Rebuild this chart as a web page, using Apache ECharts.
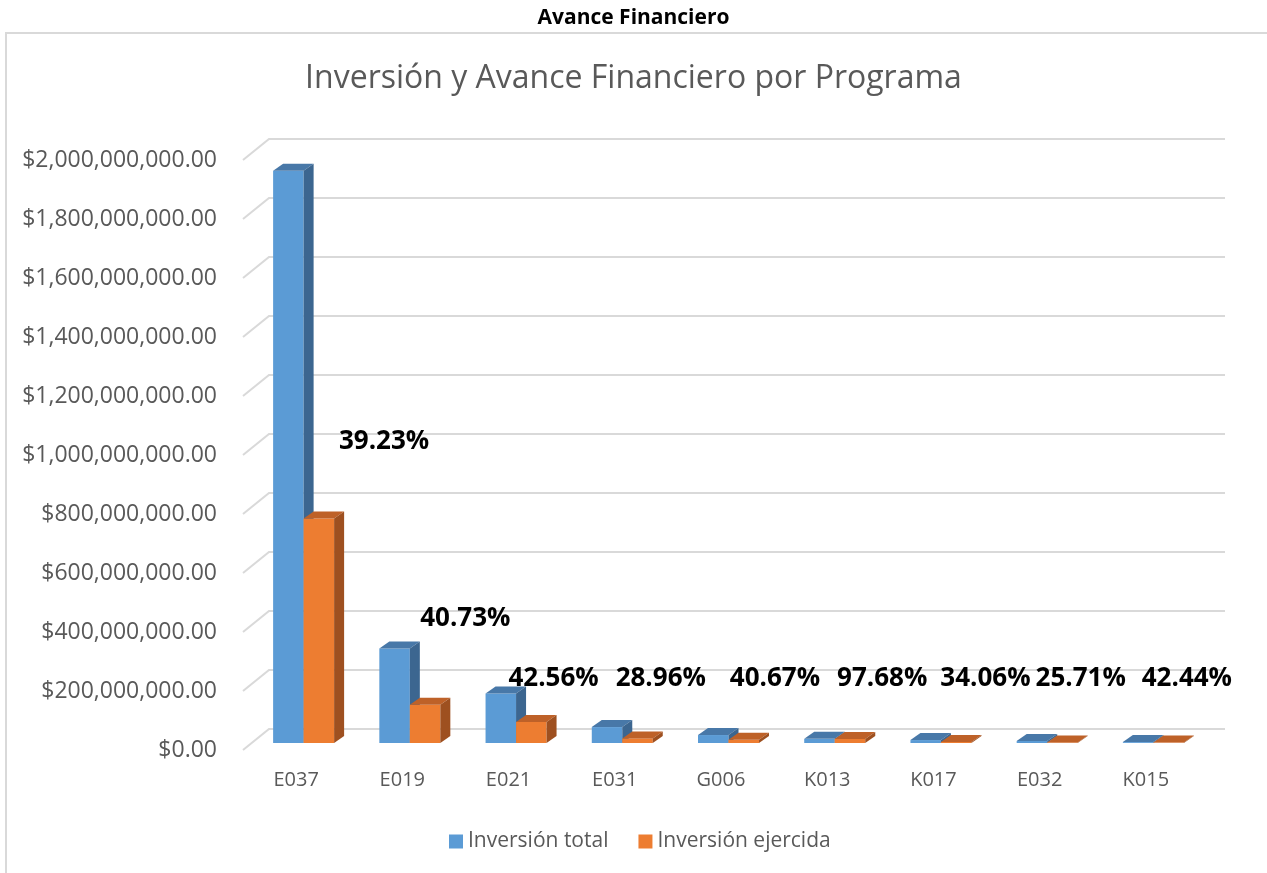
<!DOCTYPE html>
<html>
<head>
<meta charset="utf-8">
<script src="https://cdn.jsdelivr.net/npm/echarts@6/dist/echarts.min.js"></script>
<style>
  html, body { margin: 0; padding: 0; background: #fff; }
  #chart { width: 1267px; height: 873px; }
</style>
</head>
<body>
<div id="chart"></div>
<script>
// datos
var programas = ['E037', 'E019', 'E021', 'E031', 'G006', 'K013', 'K017', 'E032', 'K015'];
var inversionTotal = [1940000000, 320000000, 168000000, 54000000, 27000000, 14000000, 10000000, 7000000, 3000000];
var inversionEjercida = [761000000, 130000000, 71500000, 15600000, 11000000, 13700000, 3400000, 1800000, 1300000];
var avance = ['39.23%', '40.73%', '42.56%', '28.96%', '40.67%', '97.68%', '34.06%', '25.71%', '42.44%'];
var yTicks = [0, 200000000, 400000000, 600000000, 800000000, 1000000000, 1200000000, 1400000000, 1600000000, 1800000000, 2000000000];

// donde Excel dejo las etiquetas (nivel en el eje y corrimiento en px)
var etiquetaNivel = [1047000000, 444000000, 241000000, 241000000, 241000000, 241000000, 241000000, 241000000, 241000000];
var etiquetaCorr = [88, 63, 45, 46, 54, 55, 52, 41, 41];

var FONT = '"Open Sans", "Noto Sans", sans-serif';
var DX = 10, DY = 7;      // profundidad de la barra
var WX = 26, WY = 21;     // profundidad de la pared
var BW = 30.5;

function fmtMoney(v) {
  var s = Math.round(v).toString().replace(/\B(?=(\d{3})+(?!\d))/g, ',');
  return '$' + s + '.00';
}

function barra(offL, front, top, side) {
  return function (params, api) {
    var i = api.value(0), v = api.value(1);
    var base = api.coord([i, 0]);
    var tp = api.coord([i, v]);
    var x0 = base[0] + offL, x1 = x0 + BW;
    var yb = base[1] - 7, yt = tp[1] - 7;
    return {
      type: 'group',
      children: [
        { type: 'rect', shape: { x: x0, y: yt, width: BW, height: yb - yt }, style: { fill: front } },
        { type: 'polygon', shape: { points: [[x0, yt], [x1, yt], [x1 + DX, yt - DY], [x0 + DX, yt - DY]] }, style: { fill: top } },
        { type: 'polygon', shape: { points: [[x1, yt], [x1 + DX, yt - DY], [x1 + DX, yb - DY], [x1, yb]] }, style: { fill: side } }
      ]
    };
  };
}

var chart = echarts.init(document.getElementById('chart'));

var option = {
  animation: false,
  backgroundColor: '#fff',
  title: [
    { text: 'Avance Financiero', left: 'center', top: 3,
      textStyle: { fontFamily: FONT, fontSize: 21, fontWeight: 'bold', color: '#000' } },
    { text: 'Inversión y Avance Financiero por Programa', left: 'center', top: 58,
      textStyle: { fontFamily: FONT, fontSize: 32, fontWeight: 'normal', color: '#595959' } }
  ],
  graphic: [
    { type: 'rect', silent: true, z: -10,
      shape: { x: 6, y: 33, width: 1300, height: 900 },
      style: { fill: 'none', stroke: '#d9d9d9', lineWidth: 2 } }
  ],
  legend: {
    data: ['Inversión total', 'Inversión ejercida'],
    left: 444, top: 826,
    icon: 'rect', itemWidth: 14, itemHeight: 14, itemGap: 30,
    textStyle: { fontFamily: FONT, fontSize: 21, color: '#595959' }
  },
  grid: { left: 243, right: 68, top: 160, bottom: 123 },
  xAxis: {
    type: 'category',
    data: programas,
    axisLine: { show: false },
    axisTick: { show: false },
    axisLabel: { margin: 20, fontFamily: FONT, fontSize: 20, color: '#595959' }
  },
  yAxis: {
    type: 'value',
    min: 0, max: 2000000000, interval: 200000000,
    axisLine: { show: false },
    axisTick: { show: false },
    splitLine: { show: false },
    axisLabel: { margin: 26, fontFamily: FONT, fontSize: 23, color: '#595959', formatter: fmtMoney }
  },
  series: [
    {
      name: 'rejilla', type: 'custom', silent: true, z: 1, clip: false,
      data: yTicks.map(function (t) { return [0, t]; }),
      renderItem: function (params, api) {
        var cs = params.coordSys;
        var y = api.coord([0, api.value(1)])[1];
        return {
          type: 'polyline',
          shape: { points: [[cs.x, y], [cs.x + WX, y - WY], [cs.x + cs.width + WX, y - WY]] },
          style: { stroke: '#d9d9d9', lineWidth: 2, fill: 'none' }
        };
      }
    },
    {
      name: 'Inversión total', type: 'custom', z: 2, clip: false,
      itemStyle: { color: '#5B9BD5' },
      data: inversionTotal.map(function (v, i) { return [i, v]; }),
      renderItem: barra(-23, '#5B9BD5', '#4878A8', '#3C6690')
    },
    {
      name: 'Inversión ejercida', type: 'custom', z: 3, clip: false,
      itemStyle: { color: '#ED7D31' },
      data: inversionEjercida.map(function (v, i) { return [i, v]; }),
      renderItem: barra(7.5, '#ED7D31', '#BE6128', '#9E5020')
    },
    {
      name: 'avance', type: 'custom', z: 5, silent: true, clip: false,
      data: etiquetaNivel.map(function (v, i) { return [i, v]; }),
      renderItem: function (params, api) {
        var i = api.value(0);
        var p = api.coord([i, api.value(1)]);
        return {
          type: 'text',
          style: {
            text: avance[i], x: p[0] + etiquetaCorr[i], y: p[1],
            align: 'center', verticalAlign: 'middle',
            fontFamily: FONT, fontSize: 26, fontWeight: 'bold', fill: '#000'
          }
        };
      }
    }
  ]
};

chart.setOption(option);
</script>
</body>
</html>
